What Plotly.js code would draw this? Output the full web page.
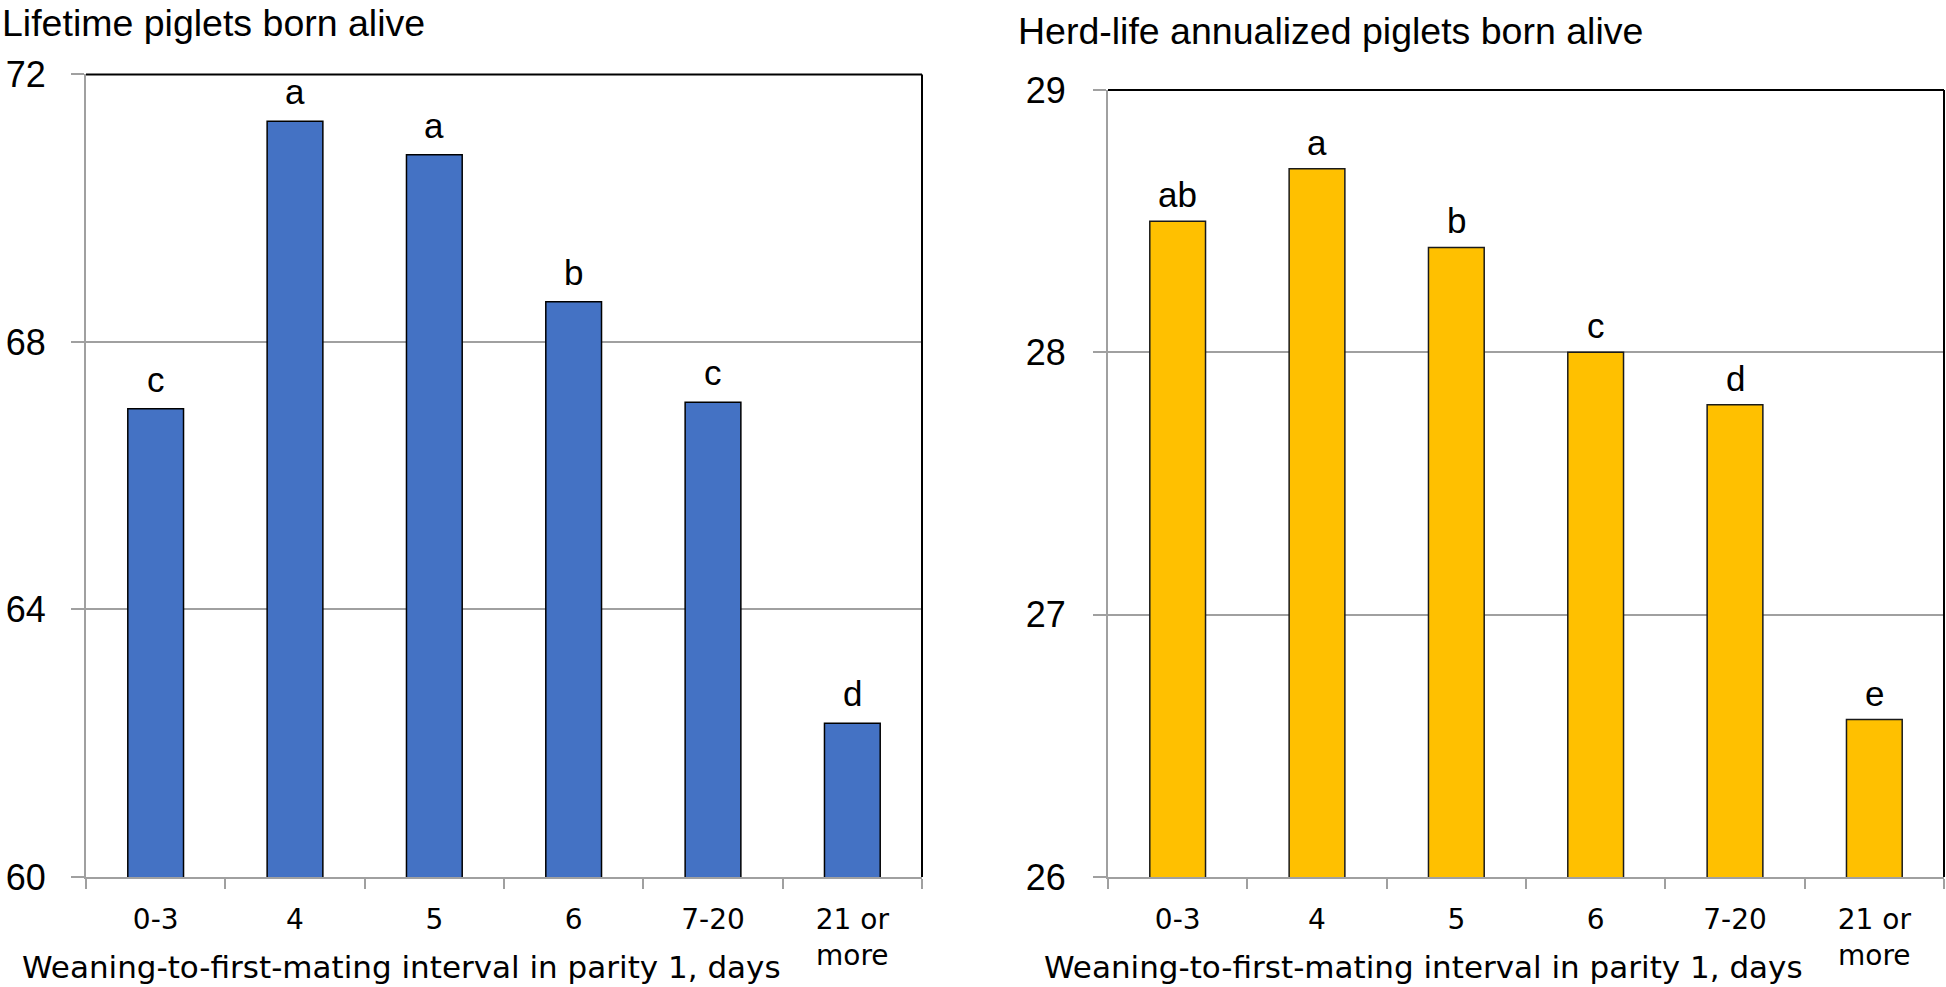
<!DOCTYPE html>
<html><head><meta charset="utf-8">
<script src="https://cdn.plot.ly/plotly-3.0.1.min.js"></script>
<style>html,body{margin:0;padding:0;background:#fff}#chart{width:1946px;height:987px}</style>
</head><body><div id="chart"></div>
<script>
const categories = ['0-3', '4', '5', '6', '7-20', '21 or<br>more'];
const lifetimeValues = [67.0, 71.3, 70.8, 68.6, 67.1, 62.3];
const lifetimeLetters = ['c', 'a', 'a', 'b', 'c', 'd'];
const annualizedValues = [28.5, 28.7, 28.4, 28.0, 27.8, 26.6];
const annualizedLetters = ['ab', 'a', 'b', 'c', 'd', 'e'];
const leftTicks = [60, 64, 68, 72];
const rightTicks = [26, 27, 28, 29];
const leftTitle = 'Lifetime piglets born alive';
const rightTitle = 'Herd-life annualized piglets born alive';
const xTitle = 'Weaning-to-first-mating interval in parity 1, days';

const GRID = '#a0a0a0';
const tickFontY = {family: 'Liberation Sans, Arial, sans-serif', size: 36, color: '#000'};
const tickFontX = {family: 'DejaVu Sans, sans-serif', size: 28, color: '#000'};
const letterFont = {family: 'Liberation Sans, Arial, sans-serif', size: 35, color: '#000'};

const traces = [
  {type: 'bar', x: categories, y: lifetimeValues, xaxis: 'x', yaxis: 'y',
   marker: {color: '#4472C4', line: {color: '#000', width: 1.5}}, hoverinfo: 'none'},
  {type: 'bar', x: categories, y: annualizedValues, xaxis: 'x2', yaxis: 'y2',
   marker: {color: '#FFC000', line: {color: '#1a1a1a', width: 1.5}}, hoverinfo: 'none'}
];

function xAxis(domain, anchor) {
  return {domain: domain, anchor: anchor, type: 'category', showline: true, linecolor: GRID, linewidth: 2,
    ticks: 'outside', tickson: 'boundaries', ticklen: 10, tickwidth: 2, tickcolor: GRID,
    showgrid: false, tickfont: tickFontX, ticklabelstandoff: 16, fixedrange: true};
}
function yAxis(domain, anchor, range, vals, standoff) {
  return {domain: domain, anchor: anchor, range: range, tickvals: vals, ticktext: vals.map(String),
    showline: true, linecolor: GRID, linewidth: 2, ticks: 'outside', ticklen: 13, tickwidth: 2, tickcolor: GRID,
    showgrid: true, gridcolor: GRID, gridwidth: 2, zeroline: false, tickfont: tickFontY,
    ticklabelstandoff: standoff, fixedrange: true};
}

const annotations = [];
lifetimeLetters.forEach((t, i) => annotations.push({xref: 'x', yref: 'y', x: i, y: lifetimeValues[i], text: t,
  showarrow: false, yanchor: 'bottom', yshift: 8, font: letterFont}));
annualizedLetters.forEach((t, i) => annotations.push({xref: 'x2', yref: 'y2', x: i, y: annualizedValues[i], text: t,
  showarrow: false, yanchor: 'bottom', yshift: 5, font: letterFont}));

const titleFont = {family: 'Liberation Sans, Arial, sans-serif', size: 37.5, color: '#000'};
annotations.push({xref: 'paper', yref: 'paper', x: 0, y: 1, xanchor: 'left', yanchor: 'top',
  text: leftTitle, showarrow: false, font: titleFont});
annotations.push({xref: 'paper', yref: 'paper', x: 1016 / 1946, y: 0.945, xanchor: 'left', yanchor: 'bottom',
  text: rightTitle, showarrow: false, font: titleFont});
const xTitleFont = {family: 'DejaVu Sans, sans-serif', size: 31, color: '#000'};
annotations.push({xref: 'paper', yref: 'paper', x: 401.5 / 1946, y: 0, xanchor: 'center', yanchor: 'bottom',
  text: xTitle, showarrow: false, font: xTitleFont});
annotations.push({xref: 'paper', yref: 'paper', x: 1423.5 / 1946, y: 0, xanchor: 'center', yanchor: 'bottom',
  text: xTitle, showarrow: false, font: xTitleFont});

function border(xr, yr) {
  return [
    {type: 'line', xref: xr + ' domain', yref: yr + ' domain', x0: 0, x1: 1, y0: 1, y1: 1, line: {color: '#000', width: 2}},
    {type: 'line', xref: xr + ' domain', yref: yr + ' domain', x0: 1, x1: 1, y0: 0, y1: 1, line: {color: '#000', width: 2}}
  ];
}

const layout = {
  width: 1946, height: 987, margin: {l: 0, r: 0, t: 0, b: 0},
  paper_bgcolor: '#fff', plot_bgcolor: '#fff', showlegend: false, bargap: 0.6,
  xaxis: xAxis([86 / 1946, 922 / 1946], 'y'),
  yaxis: yAxis([1 - 877 / 987, 1 - 74.4 / 987], 'x', [60, 72], leftTicks, 18),
  xaxis2: xAxis([1108 / 1946, 1944 / 1946], 'y2'),
  yaxis2: yAxis([1 - 877 / 987, 1 - 90 / 987], 'x2', [26, 29], rightTicks, 20),
  annotations: annotations,
  shapes: border('x', 'y').concat(border('x2', 'y2'))
};

Plotly.newPlot('chart', traces, layout, {staticPlot: true, displayModeBar: false});
</script></body></html>
